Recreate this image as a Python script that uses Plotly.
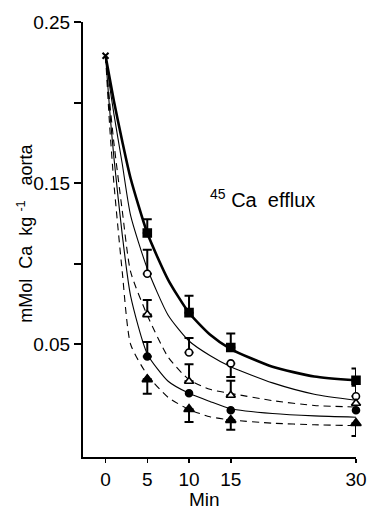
import plotly.graph_objects as go

# ---- data ----
t_points = [5, 10, 15, 30]

sq_vals = [0.119, 0.0696, 0.048, 0.0276]
sq_up = [0.0085, 0.0105, 0.0087, 0.0074]

oc_vals = [0.0937, 0.0449, 0.0381, 0.0177]
oc_up = [0.015, 0.009, 0.0, 0.0065]
oc_down = [0.0, 0.0, 0.0085, 0.0]

ot_vals = [0.0684, 0.027, 0.0183, 0.0134]
ot_up = [0.009, 0.0105, 0.009, 0.0]

fc_vals = [0.0424, 0.0196, 0.009, 0.009]
fc_up = [0.009, 0.0, 0.0, 0.0]

ft_vals = [0.0282, 0.0097, 0.0029, 0.001]
ft_down = [0.009, 0.008, 0.006, 0.008]

start_t = [0]
start_val = [0.229]

# fitted curves as drawn in the figure
curve_t = [0, 0.5, 1, 2, 3, 5, 7.5, 10, 12.5, 15, 20, 25, 30]
curve_sq = [0.229, 0.215, 0.201, 0.176, 0.153, 0.119, 0.090, 0.0695, 0.056, 0.047, 0.036, 0.030, 0.0276]
curve_oc = [0.229, 0.210, 0.193, 0.162, 0.130, 0.097, 0.068, 0.052, 0.043, 0.036, 0.026, 0.019, 0.0152]
curve_ot = [0.229, 0.200, 0.175, 0.133, 0.095, 0.068, 0.042, 0.028, 0.022, 0.0195, 0.015, 0.012, 0.011]
curve_fc = [0.229, 0.195, 0.166, 0.118, 0.080, 0.044, 0.027, 0.0195, 0.0145, 0.010, 0.007, 0.0055, 0.0047]
curve_ft = [0.229, 0.185, 0.150, 0.095, 0.050, 0.031, 0.017, 0.0095, 0.005, 0.003, 0.001, 0.000, -0.0005]

x_ticks = [0, 5, 10, 15, 30]
y_ticks = [0.05, 0.15, 0.25]
y_ticktext = ["0.05", "0.15", "0.25"]
y_minor_ticks = [0.10, 0.20]

FONT = "Liberation Sans, Arial, sans-serif"
BLACK = "black"

fig = go.Figure()

# curves
curves = [
    (curve_sq, 2.6, "solid"),
    (curve_oc, 1.1, "solid"),
    (curve_ot, 1.1, "7px,5px"),
    (curve_fc, 1.1, "solid"),
    (curve_ft, 1.1, "7px,5px"),
]
for vals, w, dash in curves:
    fig.add_trace(go.Scatter(
        x=curve_t, y=vals, mode="lines",
        line=dict(color=BLACK, width=w, dash=dash, shape="spline", smoothing=0.6),
        hoverinfo="skip", showlegend=False))


def add_err(vals, up=None, down=None):
    xs, ys, ups, downs = [], [], [], []
    for i, t in enumerate(t_points):
        u = up[i] if up else 0.0
        d = down[i] if down else 0.0
        if u > 0 or d > 0:
            xs.append(t)
            ys.append(vals[i])
            ups.append(u)
            downs.append(d)
    if not xs:
        return
    fig.add_trace(go.Scatter(
        x=xs, y=ys, mode="markers", marker=dict(size=1, color="rgba(0,0,0,0)"),
        error_y=dict(type="data", symmetric=False, array=ups, arrayminus=downs,
                     color=BLACK, thickness=2, width=4.5),
        cliponaxis=False, hoverinfo="skip", showlegend=False))


add_err(sq_vals, up=sq_up)
add_err(oc_vals, up=oc_up, down=oc_down)
add_err(ot_vals, up=ot_up)
add_err(fc_vals, up=fc_up)
add_err(ft_vals, down=ft_down)

markers = [
    (sq_vals, "square", 8, BLACK),
    (oc_vals, "circle", 7, "white"),
    (ot_vals, "triangle-up", 8, "white"),
    (fc_vals, "circle", 7, BLACK),
    (ft_vals, "triangle-up", 9, BLACK),
]
for vals, sym, size, fill in markers:
    fig.add_trace(go.Scatter(
        x=t_points, y=vals, mode="markers",
        marker=dict(symbol=sym, size=size, color=fill, line=dict(color=BLACK, width=1.6)),
        cliponaxis=False, hoverinfo="skip", showlegend=False))

fig.add_trace(go.Scatter(
    x=start_t, y=start_val, mode="markers",
    marker=dict(symbol="x-thin", size=6, line=dict(color=BLACK, width=2)),
    cliponaxis=False, hoverinfo="skip", showlegend=False))

fig.update_layout(
    width=379, height=510,
    margin=dict(l=83, r=14, t=20, b=53),
    paper_bgcolor="white", plot_bgcolor="white",
    font=dict(family=FONT, size=19, color=BLACK),
    xaxis=dict(range=[-2.7, 30], showline=True, linewidth=2, linecolor=BLACK,
               ticks="outside", ticklen=4, tickwidth=1.5, tickcolor=BLACK,
               tickvals=x_ticks, showgrid=False, zeroline=False,
               ticklabeloverflow="allow",
               tickfont=dict(family=FONT, size=19, color=BLACK)),
    yaxis=dict(range=[-0.02, 0.25], showline=True, linewidth=2, linecolor=BLACK,
               ticks="outside", ticklen=7, tickwidth=2, tickcolor=BLACK,
               tickvals=y_ticks, ticktext=y_ticktext, showgrid=False, zeroline=False,
               minor=dict(tickvals=y_minor_ticks, ticks="outside", ticklen=7,
                          tickwidth=2, tickcolor=BLACK, showgrid=False),
               tickfont=dict(family=FONT, size=19, color=BLACK)),
)

fig.add_annotation(text="mMol\u00a0 Ca\u00a0 kg\u00a0<sup>-1</sup>\u00a0\u00a0 aorta",
                   xref="paper", yref="paper", x=-0.21, y=0.515,
                   textangle=-90, showarrow=False, xanchor="center", yanchor="middle",
                   font=dict(family=FONT, size=18, color=BLACK))
fig.add_annotation(text="Min", xref="x", yref="paper", x=11.8, y=-0.098,
                   showarrow=False, xanchor="center", yanchor="middle",
                   font=dict(family=FONT, size=19, color=BLACK))
fig.add_annotation(text="<sup>45</sup> Ca\u00a0 efflux", xref="paper", yref="paper",
                   x=(212 - 83) / 282, y=(457 - 197) / 437,
                   showarrow=False, xanchor="left", yanchor="middle",
                   font=dict(family=FONT, size=20, color=BLACK))

# remove the page's default 8px body margin so the figure fills the window exactly
fig.write_html("out.html", config={"displayModeBar": False, "staticPlot": True},
               post_script="document.body.style.margin='0';")
